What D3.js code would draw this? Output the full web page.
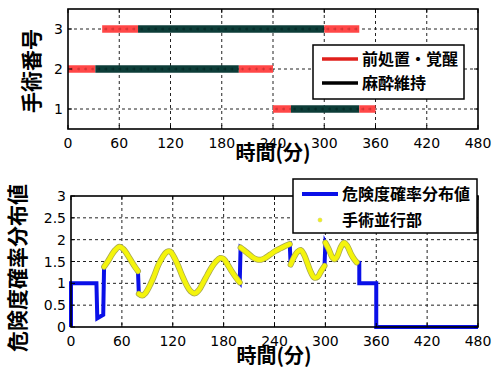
<!DOCTYPE html>
<html><head><meta charset="utf-8">
<script src="https://cdn.jsdelivr.net/npm/d3@7"></script>
<style>
html,body{margin:0;padding:0;background:#fff;}
svg{display:block;}
.tick-num{font-family:"DejaVu Sans",sans-serif;font-size:14px;fill:#000;}
.jp{font-family:"Noto Sans CJK JP",sans-serif;font-weight:bold;fill:#000;}
</style></head>
<body>
<script>
// ---------- data ----------
const xTicks = [0,60,120,180,240,300,360,420,480];
const topYTicks = [1,2,3];
const botYTicks = [0,0.5,1,1.5,2,2.5,3];
const botYTickLabels = ["0","0.5","1","1.5","2","2.5","3"];

// surgery schedule segments
const segSurgery = [3,3,3, 2,2,2, 1,1,1];
const segStart   = [40,82,300, 0,32,200, 240,261,341];
const segEnd     = [82,300,341, 32,200,240, 261,341,360];
const segPhase   = ["prep","maint","prep","prep","maint","prep","prep","maint","prep"];
const phaseNames = {prep:"前処置・覚醒", maint:"麻酔維持"};

// risk probability distribution value
const riskTime = [0,0,30,31,38,39,
  44,48,52,57,62,67,72,76,79,
  80,84,88,93,98,103,108,113,117,121,126,131,136,141,146,151,156,161,166,171,176,180,185,190,195,199,
  200,204,209,214,219,224,229,235,241,247,253,258,
  259,263,267,271,275,279,283,287,291,295,299,
  300,304,308,311,314,318,322,326,330,334,337,
  340,340,360,360,480];
const riskValue = [0,1,1,0.2,0.28,1.38,
  1.52,1.65,1.76,1.84,1.78,1.64,1.48,1.36,1.28,
  0.76,0.72,0.78,0.95,1.17,1.42,1.6,1.72,1.73,1.62,1.42,1.18,0.97,0.82,0.77,0.85,1.02,1.2,1.37,1.5,1.58,1.56,1.42,1.26,1.12,1.02,
  1.82,1.76,1.68,1.6,1.55,1.54,1.58,1.66,1.74,1.8,1.86,1.9,
  1.43,1.6,1.72,1.76,1.65,1.45,1.25,1.13,1.15,1.28,1.4,
  1.93,1.78,1.6,1.55,1.62,1.82,1.93,1.85,1.68,1.55,1.48,
  1.47,1.0,1.0,0,0];
// parallel surgery sections (index ranges in riskTime)
const parallelFrom = [5,15,41,53,64];
const parallelTo   = [14,40,52,63,74];

// ---------- drawing ----------
const W=497,H=367;
const svg=d3.select("body").append("svg").attr("width",W).attr("height",H);

function panel(x0,x1,y0,y1,ydom,yticks,ylabels){
  const x=d3.scaleLinear().domain([0,480]).range([x0,x1]);
  const y=d3.scaleLinear().domain(ydom).range([y1,y0]);
  const g=svg.append("g");
  g.selectAll(".vg").data(xTicks.slice(1,-1)).join("line")
    .attr("x1",d=>x(d)).attr("x2",d=>x(d)).attr("y1",y0).attr("y2",y1)
    .attr("stroke","#222").attr("stroke-width",1).attr("stroke-dasharray","3,3");
  g.selectAll(".hg").data(yticks.filter(d=>d>ydom[0]&&d<ydom[1])).join("line")
    .attr("x1",x0).attr("x2",x1).attr("y1",d=>y(d)).attr("y2",d=>y(d))
    .attr("stroke","#222").attr("stroke-width",1).attr("stroke-dasharray","3,3");
  return {x,y,g,x0,x1,y0,y1,yticks,ylabels};
}
function frame(p){
  const {x,y,g,x0,x1,y0,y1,yticks,ylabels}=p;
  const fg=svg.append("g");
  fg.append("rect").attr("x",x0).attr("y",y0).attr("width",x1-x0).attr("height",y1-y0)
    .attr("fill","none").attr("stroke","#000").attr("stroke-width",1.6);
  xTicks.forEach(t=>{
    fg.append("line").attr("x1",x(t)).attr("x2",x(t)).attr("y1",y1).attr("y2",y1-4).attr("stroke","#000");
    fg.append("line").attr("x1",x(t)).attr("x2",x(t)).attr("y1",y0).attr("y2",y0+4).attr("stroke","#000");
  });
  yticks.forEach(t=>{
    fg.append("line").attr("x1",x0).attr("x2",x0+4).attr("y1",y(t)).attr("y2",y(t)).attr("stroke","#000");
    fg.append("line").attr("x1",x1).attr("x2",x1-4).attr("y1",y(t)).attr("y2",y(t)).attr("stroke","#000");
  });
  fg.selectAll(".xl").data(xTicks).join("text").attr("class","tick-num")
    .attr("x",d=>x(d)).attr("y",y1+19).attr("text-anchor","middle").text(d=>d);
  fg.selectAll(".yl").data(yticks).join("text").attr("class","tick-num")
    .attr("x",x0-5).attr("y",d=>y(d)+5).attr("text-anchor","end").text((d,i)=>ylabels[i]);
}

// ----- top panel -----
const P1=panel(68,478,9,129,[0.5,3.5],topYTicks,topYTicks.map(String));
const barColor={prep:"#ff4747",maint:"#0d3d38"};
const markColor={prep:"#b02525",maint:"#031f1c"};
segStart.forEach((s,i)=>{
  const yy=P1.y(segSurgery[i]);
  P1.g.append("line").attr("x1",P1.x(s)).attr("x2",P1.x(segEnd[i])).attr("y1",yy).attr("y2",yy)
    .attr("stroke",barColor[segPhase[i]]).attr("stroke-width",7.5);
  P1.g.append("line").attr("x1",P1.x(s)+2).attr("x2",P1.x(segEnd[i])).attr("y1",yy).attr("y2",yy)
    .attr("stroke",markColor[segPhase[i]]).attr("stroke-width",1).attr("stroke-dasharray","3,4").attr("opacity",0.6);
  P1.g.append("line").attr("x1",P1.x(s)+3.5).attr("x2",P1.x(segEnd[i])).attr("y1",yy).attr("y2",yy)
    .attr("stroke",markColor[segPhase[i]]).attr("stroke-width",3).attr("stroke-dasharray","0.8,6.2")
    .attr("opacity",0.5);
});
frame(P1);
// legend top
const L1=svg.append("g");
L1.append("rect").attr("x",313).attr("y",45).attr("width",151).attr("height",54)
  .attr("fill","#fff").attr("stroke","#000").attr("stroke-width",1.5);
[["prep","#e0201c",59],["maint","#000",83]].forEach(([k,c,yy])=>{
  L1.append("line").attr("x1",322).attr("x2",358).attr("y1",yy).attr("y2",yy).attr("stroke",c).attr("stroke-width",3.5);
  L1.append("text").attr("class","jp").attr("x",362).attr("y",yy+6).style("font-size","16px").text(phaseNames[k]);
});
svg.append("text").attr("class","jp").attr("x",273).attr("y",160).attr("text-anchor","middle")
  .style("font-size","20px").text("時間(分)");
svg.append("text").attr("class","jp").attr("transform","translate(39,71) rotate(-90)").attr("text-anchor","middle")
  .style("font-size","21px").text("手術番号");

// ----- bottom panel -----
const P2=panel(71,478,196,327,[0,3],botYTicks,botYTickLabels);
const pts=riskTime.map((t,i)=>[t,riskValue[i]]);
const lineLin=d3.line().x(d=>P2.x(d[0])).y(d=>P2.y(d[1]));
P2.g.append("path").attr("d",lineLin(pts)).attr("fill","none").attr("stroke","#0a10e8")
  .attr("stroke-width",4).attr("stroke-linejoin","miter");
const lineSm=d3.line().x(d=>P2.x(d[0])).y(d=>P2.y(d[1])).curve(d3.curveCatmullRom.alpha(0.5));
parallelFrom.forEach((a,i)=>{
  const seg=pts.slice(a,parallelTo[i]+1);
  P2.g.append("path").attr("d",lineSm(seg)).attr("fill","none").attr("stroke","#a8a850")
    .attr("stroke-width",6).attr("stroke-linecap","round").attr("stroke-linejoin","round");
});
parallelFrom.forEach((a,i)=>{
  const seg=pts.slice(a,parallelTo[i]+1);
  P2.g.append("path").attr("d",lineSm(seg)).attr("fill","none").attr("stroke","#f4f40c")
    .attr("stroke-width",4.5).attr("stroke-linecap","round").attr("stroke-linejoin","round");
});
frame(P2);
// legend bottom
const L2=svg.append("g");
L2.append("rect").attr("x",293).attr("y",179).attr("width",184).attr("height",54)
  .attr("fill","#fff").attr("stroke","#000").attr("stroke-width",1.5);
L2.append("line").attr("x1",302).attr("x2",338).attr("y1",194).attr("y2",194).attr("stroke","#0a10e8").attr("stroke-width",4);
L2.append("text").attr("class","jp").attr("x",342).attr("y",200).style("font-size","16px").text("危険度確率分布値");
L2.append("circle").attr("cx",320).attr("cy",220).attr("r",2).attr("fill","#f4f40c").attr("stroke","#d0d070").attr("stroke-width",0.6);
L2.append("text").attr("class","jp").attr("x",342).attr("y",226).style("font-size","16px").text("手術並行部");
svg.append("text").attr("class","jp").attr("x",274).attr("y",363).attr("text-anchor","middle")
  .style("font-size","20px").text("時間(分)");
svg.append("text").attr("class","jp").attr("transform","translate(25,268) rotate(-90)").attr("text-anchor","middle")
  .style("font-size","21px").text("危険度確率分布値");
</script>
</body></html>
